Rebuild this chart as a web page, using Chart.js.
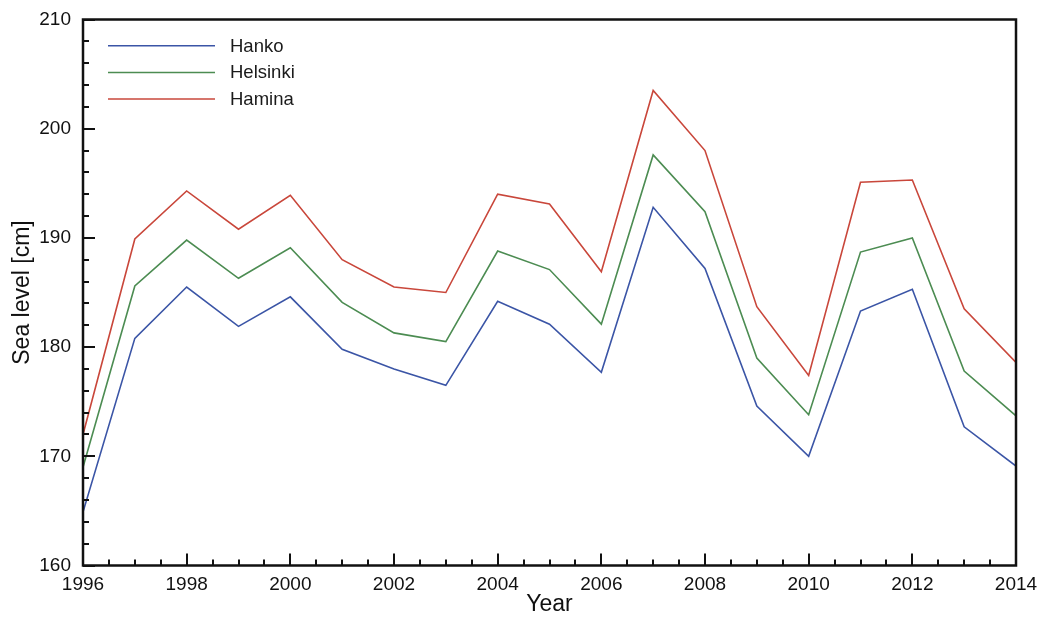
<!DOCTYPE html>
<html>
<head>
<meta charset="utf-8">
<script src="https://cdn.jsdelivr.net/npm/chart.js@4/dist/chart.umd.min.js"></script>
<style>
  html, body { margin: 0; padding: 0; background: #ffffff; }
  #wrap { width: 1040px; height: 625px; }
</style>
</head>
<body>
<div id="wrap"><canvas id="c" width="1040" height="625"></canvas></div>
<script>
// Annual sea level maxima at three Gulf of Finland stations
const years = [1996, 1997, 1998, 1999, 2000, 2001, 2002, 2003, 2004, 2005,
               2006, 2007, 2008, 2009, 2010, 2011, 2012, 2013, 2014];
const hanko    = [164.9, 180.8, 185.5, 181.9, 184.6, 179.8, 178.0, 176.5, 184.2, 182.1,
                  177.7, 192.8, 187.2, 174.6, 170.0, 183.3, 185.3, 172.7, 169.1];
const helsinki = [169.0, 185.6, 189.8, 186.3, 189.1, 184.1, 181.3, 180.5, 188.8, 187.1,
                  182.1, 197.6, 192.4, 179.0, 173.8, 188.7, 190.0, 177.8, 173.7];
const hamina   = [172.0, 189.9, 194.3, 190.8, 193.9, 188.0, 185.5, 185.0, 194.0, 193.1,
                  186.9, 203.5, 198.0, 183.7, 177.4, 195.1, 195.3, 183.5, 178.6];
const seriesNames = ['Hanko', 'Helsinki', 'Hamina'];
const seriesColors = ['#3b55a6', '#4c8c52', '#c9473b'];

const FONT = '"Liberation Sans", Arial, Helvetica, sans-serif';
const toPoints = vals => years.map((y, i) => ({ x: y, y: vals[i] }));

// Inward major/minor ticks, closed frame and in-plot legend
const framePlugin = {
  id: 'frame',
  afterDraw(chart) {
    const { ctx, chartArea: a, scales: { x, y } } = chart;
    ctx.save();
    ctx.strokeStyle = '#111';
    ctx.lineWidth = 2.5;
    ctx.strokeRect(a.left, a.top, a.right - a.left, a.bottom - a.top);

    ctx.lineWidth = 2;
    ctx.beginPath();
    for (let v = x.min; v <= x.max + 1e-9; v += 0.5) {
      const px = Math.round(x.getPixelForValue(v));
      const len = (v % 2 === 0) ? 12 : 6;
      ctx.moveTo(px, a.bottom);
      ctx.lineTo(px, a.bottom - len);
    }
    for (let v = y.min; v <= y.max + 1e-9; v += 2) {
      const py = Math.round(y.getPixelForValue(v));
      const len = (v % 10 === 0) ? 12 : 6;
      ctx.moveTo(a.left, py);
      ctx.lineTo(a.left + len, py);
    }
    ctx.stroke();

    // legend
    ctx.font = '18.5px ' + FONT;
    ctx.textBaseline = 'middle';
    ctx.textAlign = 'left';
    chart.data.datasets.forEach((ds, i) => {
      const ly = 45.7 + i * 26.7;
      ctx.strokeStyle = ds.borderColor;
      ctx.lineWidth = 1.5;
      ctx.beginPath();
      ctx.moveTo(108, ly);
      ctx.lineTo(215, ly);
      ctx.stroke();
      ctx.fillStyle = '#1a1a1a';
      ctx.fillText(ds.label, 230, ly + 1);
    });
    ctx.restore();
  }
};

new Chart(document.getElementById('c'), {
  type: 'line',
  data: {
    datasets: [hanko, helsinki, hamina].map((vals, i) => ({
      label: seriesNames[i],
      data: toPoints(vals),
      borderColor: seriesColors[i],
      backgroundColor: seriesColors[i],
      borderWidth: 1.6,
      pointRadius: 0,
      tension: 0,
      fill: false
    }))
  },
  options: {
    responsive: false,
    devicePixelRatio: 1,
    animation: false,
    layout: { padding: { top: 19.5, right: 24, left: 0, bottom: 0 } },
    plugins: { legend: { display: false }, tooltip: { enabled: false } },
    scales: {
      x: {
        type: 'linear',
        min: 1996,
        max: 2014,
        afterFit: s => {
          s.height = 59.5;
          s.paddingLeft = 0;
          s.paddingRight = 0;
        },
        grid: { display: false, drawTicks: false },
        border: { display: false },
        ticks: {
          stepSize: 2,
          padding: 8,
          color: '#111',
          font: { family: FONT, size: 19 },
          callback: v => String(v)
        },
        title: {
          display: true,
          text: 'Year',
          color: '#111',
          font: { family: FONT, size: 23 },
          padding: { top: 0, bottom: 7 }
        }
      },
      y: {
        min: 160,
        max: 210,
        afterFit: s => {
          s.width = 83;
          s.paddingTop = 0;
          s.paddingBottom = 0;
        },
        grid: { display: false, drawTicks: false },
        border: { display: false },
        ticks: {
          stepSize: 10,
          padding: 12,
          color: '#111',
          font: { family: FONT, size: 19 },
          callback: v => String(v)
        },
        title: {
          display: true,
          text: 'Sea level [cm]',
          color: '#111',
          font: { family: FONT, size: 23 },
          padding: { top: 9, bottom: 0 }
        }
      }
    }
  },
  plugins: [framePlugin]
});
</script>
</body>
</html>
